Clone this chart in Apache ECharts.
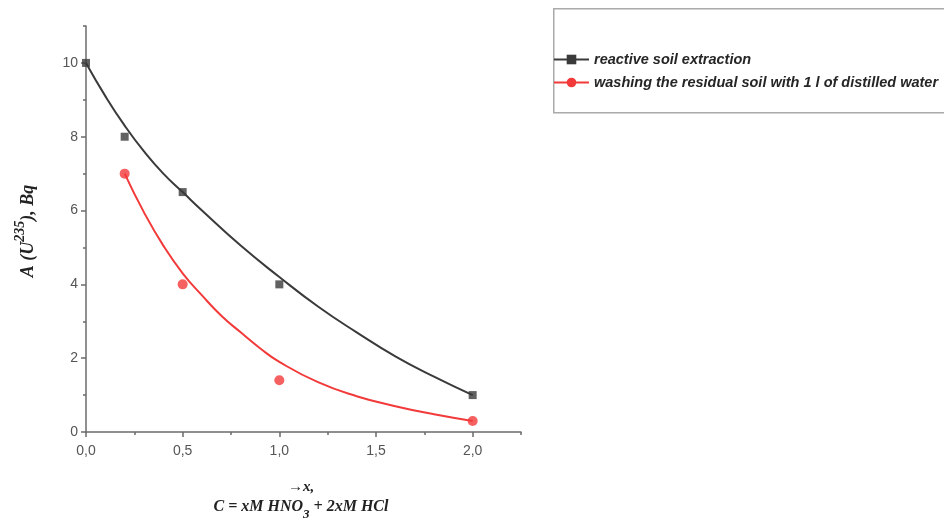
<!DOCTYPE html>
<html>
<head>
<meta charset="utf-8">
<script src="https://cdn.jsdelivr.net/npm/echarts@6/dist/echarts.min.js"></script>
<style>
html, body { margin: 0; padding: 0; background: #fff; }
#chart { width: 944px; height: 523px; }
</style>
</head>
<body>
<div id="chart"></div>
<script>
// measured points
var xBlack = [0, 0.2, 0.5, 1.0, 2.0];
var yBlack = [10, 8, 6.5, 4, 1];
var xRed = [0.2, 0.5, 1.0, 2.0];
var yRed = [7, 4, 1.4, 0.3];
// fitted curves
var fitBlackX = [0, 0.1, 0.2, 0.3, 0.4, 0.5, 0.6, 0.8, 1.0, 1.2, 1.4, 1.6, 1.8, 2.0];
var fitBlackY = [10, 9.1, 8.3, 7.6, 7.0, 6.5, 6.0, 5.05, 4.2, 3.4, 2.7, 2.05, 1.5, 1.0];
var fitRedX = [0.2, 0.3, 0.4, 0.5, 0.6, 0.7, 0.8, 0.9, 1.0, 1.2, 1.4, 1.6, 1.8, 2.0];
var fitRedY = [7, 5.95, 5.05, 4.3, 3.7, 3.15, 2.7, 2.27, 1.9, 1.35, 0.97, 0.7, 0.48, 0.3];
// ticks
var xMajor = [0, 0.5, 1.0, 1.5, 2.0];
var xMinor = [0.25, 0.75, 1.25, 1.75, 2.25];
var yMajor = [0, 2, 4, 6, 8, 10];
var yMinor = [1, 3, 5, 7, 9, 11];
var names = ['reactive soil extraction', 'washing the residual soil with 1 l of distilled water'];

function pairs(xs, ys) {
	var out = [];
	for (var i = 0; i < xs.length; i++) out.push([xs[i], ys[i]]);
	return out;
}

var axisColor = '#6b6b6b';
var labelStyle = { color: '#555', fontSize: 14, fontFamily: 'Liberation Sans' };
var serif = { fontWeight: 'bold', fontStyle: 'italic', fontFamily: 'Liberation Serif', fill: '#222' };

var myChart = echarts.init(document.getElementById('chart'));
var option = {
	animation: false,
	grid: { left: 86, top: 26, right: 423, bottom: 91 },
	legend: {
		orient: 'vertical',
		left: 553,
		top: 52,
		itemWidth: 35,
		itemHeight: 12,
		itemGap: 8,
		padding: 0,
		data: names,
		textStyle: { color: '#262626', fontSize: 14.5, fontWeight: 'bold', fontStyle: 'italic', fontFamily: 'Liberation Sans' }
	},
	xAxis: [{
		type: 'value', min: 0, max: 2.25,
		axisLine: { lineStyle: { color: axisColor, width: 1.5 } },
		axisTick: { customValues: xMajor, length: 5, lineStyle: { color: axisColor, width: 1.5 } },
		axisLabel: Object.assign({ customValues: xMajor, margin: 12, formatter: function (v) { return v.toFixed(1).replace('.', ','); } }, labelStyle),
		splitLine: { show: false }
	}, {
		type: 'value', min: 0, max: 2.25, position: 'bottom',
		axisLine: { show: false },
		axisTick: { customValues: xMinor, length: 3, lineStyle: { color: axisColor, width: 1.5 } },
		axisLabel: { show: false },
		splitLine: { show: false }
	}],
	yAxis: [{
		type: 'value', min: 0, max: 11,
		axisLine: { show: true, lineStyle: { color: axisColor, width: 1.5 } },
		axisTick: { show: true, customValues: yMajor, length: 5, lineStyle: { color: axisColor, width: 1.5 } },
		axisLabel: Object.assign({ customValues: yMajor, margin: 8 }, labelStyle),
		splitLine: { show: false }
	}, {
		type: 'value', min: 0, max: 11, position: 'left',
		axisLine: { show: false },
		axisTick: { show: true, customValues: yMinor, length: 3, lineStyle: { color: axisColor, width: 1.5 } },
		axisLabel: { show: false },
		splitLine: { show: false }
	}],
	series: [{
		name: names[0], type: 'line', smooth: true, showSymbol: false,
		symbol: 'rect', symbolSize: 7,
		itemStyle: { color: '#3a3a3a' },
		lineStyle: { color: '#3a3a3a', width: 2 },
		data: pairs(fitBlackX, fitBlackY)
	}, {
		name: names[1], type: 'line', smooth: true, showSymbol: false,
		symbol: 'circle', symbolSize: 8,
		itemStyle: { color: '#f23a3a' },
		lineStyle: { color: '#f23a3a', width: 2 },
		data: pairs(fitRedX, fitRedY)
	}, {
		name: names[0], type: 'scatter', symbol: 'rect', symbolSize: 8,
		itemStyle: { color: '#3a3a3a' },
		data: pairs(xBlack, yBlack)
	}, {
		name: names[1], type: 'scatter', symbol: 'circle', symbolSize: 10,
		itemStyle: { color: '#f23a3a' },
		data: pairs(xRed, yRed)
	}],
	graphic: [{
		type: 'rect', left: 553, top: 8, z: -1,
		shape: { width: 400, height: 104 },
		style: { fill: '#fff', stroke: '#aaa', lineWidth: 1.5 }
	}, {
		type: 'text', x: 25, y: 231, rotation: Math.PI / 2,
		style: {
			text: '{n|A (U}{s|235}{n|), Bq}',
			align: 'center', verticalAlign: 'middle',
			rich: {
				n: Object.assign({ fontSize: 18, lineHeight: 24, verticalAlign: 'bottom' }, serif),
				s: Object.assign({ fontSize: 14, lineHeight: 24, verticalAlign: 'top' }, serif)
			}
		}
	}, {
		type: 'text', x: 301, y: 487,
		style: Object.assign({ text: '→x,', align: 'center', verticalAlign: 'middle', fontSize: 15 }, serif)
	}, {
		type: 'text', x: 301, y: 510,
		style: {
			text: '{n|C = xM HNO}{s|3}{n| + 2xM HCl}',
			align: 'center', verticalAlign: 'middle',
			rich: {
				n: Object.assign({ fontSize: 16, lineHeight: 22, verticalAlign: 'top' }, serif),
				s: Object.assign({ fontSize: 13, lineHeight: 22, verticalAlign: 'bottom' }, serif)
			}
		}
	}]
};
myChart.setOption(option);
</script>
</body>
</html>
